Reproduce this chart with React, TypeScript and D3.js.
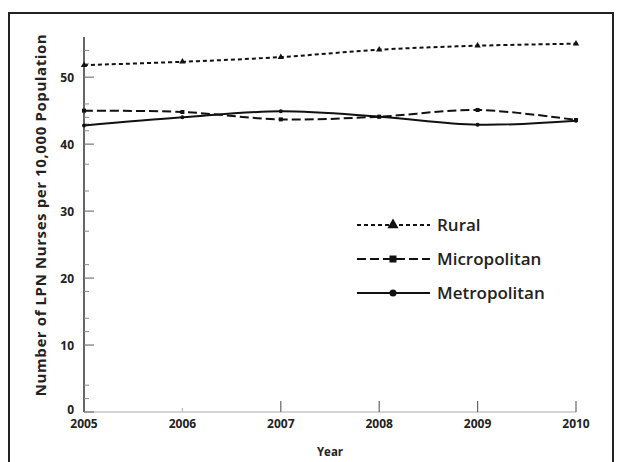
import React from "react";
import * as d3 from "d3";

const years = [2005, 2006, 2007, 2008, 2009, 2010];
const rural = [51.8, 52.3, 53.0, 54.1, 54.7, 55.0];
const micropolitan = [45.0, 44.8, 43.7, 44.1, 45.1, 43.6];
const metropolitan = [42.8, 44.0, 44.9, 44.1, 42.9, 43.5];
const yTicks = [0, 10, 20, 30, 40, 50];
const yMinorTicks = [2, 4, 12, 14, 18, 22, 27, 33, 37, 42, 43, 44, 46, 52, 54];
const seriesNames = ["Rural", "Micropolitan", "Metropolitan"];

const W = 620;
const H = 462;
const FONT = "'Open Sans', Lato, sans-serif";

export default function App() {
  const x = d3.scaleLinear().domain([2005, 2010]).range([84, 576]);
  const y = d3.scaleLinear().domain([0, 56]).range([412, 37]);

  const line = d3
    .line<[number, number]>()
    .x((d) => x(d[0]))
    .y((d) => y(d[1]))
    .curve(d3.curveCatmullRom.alpha(0.5));

  const series = [
    { name: seriesNames[0], values: rural, dash: "4,3", marker: "triangle" },
    { name: seriesNames[1], values: micropolitan, dash: "9,4", marker: "square" },
    { name: seriesNames[2], values: metropolitan, dash: "", marker: "circle" },
  ];

  const marker = (type: string, cx: number, cy: number, s: number, key?: any) => {
    if (type === "triangle") {
      const sym = d3.symbol().type(d3.symbolTriangle).size(s * s * 1.1)();
      return <path key={key} d={sym || ""} transform={`translate(${cx},${cy})`} fill="#111" />;
    }
    if (type === "square") {
      return <rect key={key} x={cx - s / 2} y={cy - s / 2} width={s} height={s} fill="#111" />;
    }
    return <circle key={key} cx={cx} cy={cy} r={s / 2} fill="#111" />;
  };

  const legendY = [225, 259, 293];

  return (
    <svg
      width={W}
      height={H}
      style={{ position: "fixed", left: 0, top: 0, background: "#fff" }}
      fontFamily={FONT}
    >
      <rect x={0} y={0} width={W} height={H} fill="#fff" />
      <rect x={9} y={13} width={604} height={470} fill="none" stroke="#222" strokeWidth={2} />

      {/* x axis */}
      <line x1={x(2005)} x2={x(2010)} y1={y(0)} y2={y(0)} stroke="#aaa" strokeWidth={1.2} />
      {years.slice(1).map((yr) => (
        <line key={yr} x1={x(yr)} x2={x(yr)} y1={y(0)} y2={y(0) - (yr >= 2007 ? 11 : 4)} stroke={yr >= 2007 ? "#666" : "#bbb"} strokeWidth={1.2} />
      ))}
      {years.map((yr) => (
        <text key={yr} x={x(yr)} y={428} textAnchor="middle" fontSize={12} fontWeight="bold" fill="#222">
          {yr}
        </text>
      ))}
      <text x={330} y={456} textAnchor="middle" fontSize={11.5} fontWeight="bold" fill="#222">
        Year
      </text>

      {/* y axis */}
      <line x1={x(2005)} x2={x(2005)} y1={y(56)} y2={y(0)} stroke="#333" strokeWidth={1.5} />
      {yTicks.map((t) => (
        <g key={t}>
          <line x1={x(2005)} x2={x(2005) + 10} y1={y(t)} y2={y(t)} stroke="#777" strokeWidth={1.2} />
          <text x={74} y={y(t) + (t === 0 ? 2 : 4.5)} textAnchor="end" fontSize={12} fontWeight="bold" fill="#222">
            {t}
          </text>
        </g>
      ))}
      {yMinorTicks.map((t) => (
        <line key={t} x1={x(2005)} x2={x(2005) + 5} y1={y(t)} y2={y(t)} stroke="#888" strokeWidth={1} />
      ))}
      <text
        transform={`translate(46,215) rotate(-90)`}
        textAnchor="middle"
        fontSize={15}
        letterSpacing={0.6}
        fontWeight="bold"
        fill="#222"
      >
        Number of LPN Nurses per 10,000 Population
      </text>

      {/* series */}
      {series.map((s) => {
        const pts = years.map((yr, i) => [yr, s.values[i]] as [number, number]);
        return (
          <g key={s.name}>
            <path d={line(pts) || ""} fill="none" stroke="#111" strokeWidth={2} strokeDasharray={s.dash || undefined} />
            {pts.map((p, i) => marker(s.marker, x(p[0]), y(p[1]), 4, i))}
          </g>
        );
      })}

      {/* legend */}
      {series.map((s, i) => (
        <g key={s.name}>
          <line x1={357} x2={430} y1={legendY[i]} y2={legendY[i]} stroke="#111" strokeWidth={2.2} strokeDasharray={s.dash || undefined} />
          {marker(s.marker, 393, legendY[i], 7)}
          <text x={437} y={legendY[i] + 6} fontSize={17} fontWeight={600} fill="#222">
            {s.name}
          </text>
        </g>
      ))}
    </svg>
  );
}
